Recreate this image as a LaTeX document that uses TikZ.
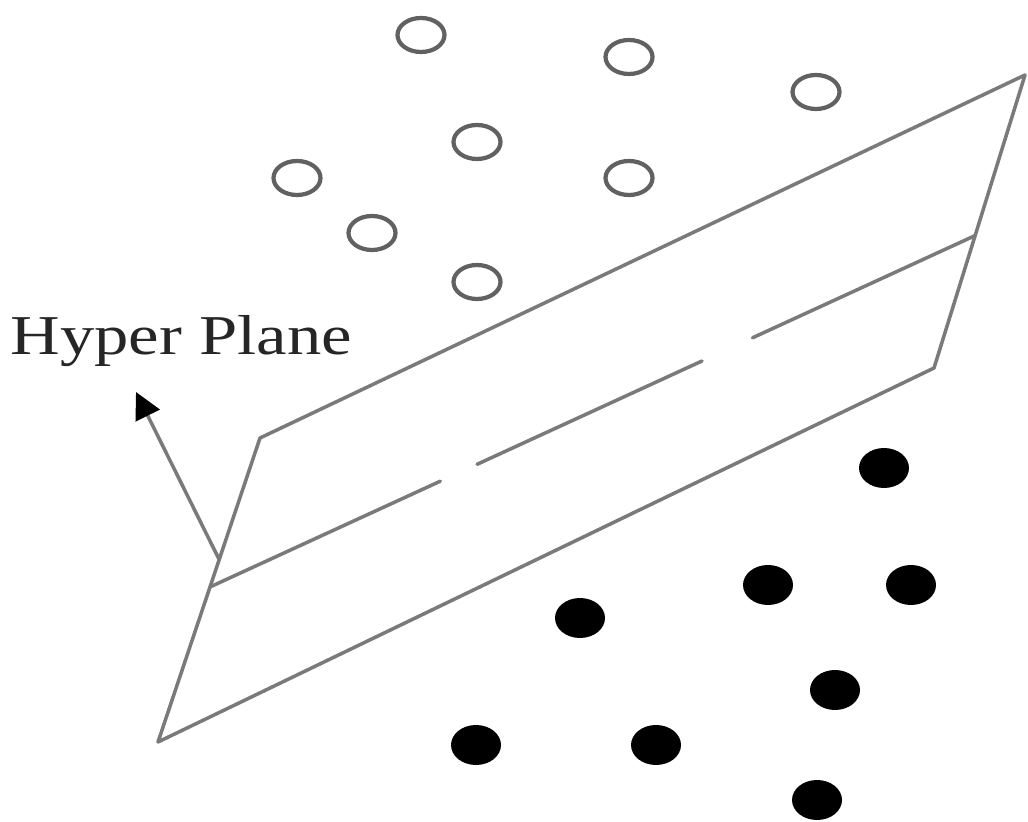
\documentclass[tikz,border=0pt]{standalone}
\usepackage{fontspec}
\setmainfont{Liberation Serif}
\usepackage{tikz}
\usetikzlibrary{shapes.geometric, positioning, calc, arrows.meta}

\newcommand{\pxu}{*0.01cm}
\tikzset{
  planeline/.style={line width=1pt, draw=black!52, line cap=round, line join=round},
  hollowpt/.style={ellipse, draw=black!62, line width=1.2pt, fill=white,
                   minimum width=47\pxu, minimum height=34\pxu, inner sep=0pt},
  solidpt/.style={ellipse, fill=black, draw=none,
                  minimum width=50\pxu, minimum height=40\pxu, inner sep=0pt}
}

\begin{document}
\begin{tikzpicture}[x=0.01cm, y=-0.01cm]
        \useasboundingbox (0,0) rectangle (1028,822);

        % 1. Corners of the hyper plane
        \coordinate (tl) at (260,438);
        \coordinate (tr) at (1025,75);
        \coordinate (br) at (934,368);
        \coordinate (bl) at (158,742);

        % 2. Outline of the plane
        \draw[planeline] (tl) -- (tr) -- (br) -- (bl) -- cycle;

        % 3. Middle line with two gaps
        \coordinate (mA) at ($(tl)!0.49!(bl)$);
        \coordinate (mB) at ($(tr)!0.548!(br)$);
        \draw[planeline] (mA) -- ($(mA)!0.301!(mB)$);
        \draw[planeline] ($(mA)!0.349!(mB)$) -- ($(mA)!0.643!(mB)$);
        \draw[planeline] ($(mA)!0.709!(mB)$) -- (mB);

        % 4. Normal arrow and its label
        \coordinate (nbase) at ($(tl)!0.4!(bl)$);
        \node[anchor=base west, inner sep=0pt, text=black!85,
              font=\fontsize{16}{18}\selectfont]
             (lbl) at (10,355) {\scalebox{1.22}[1]{Hyper Plane}};
        \coordinate (ntip) at (136,392);
        \draw[planeline, -{Triangle[length=7.5pt, width=7.5pt, color=black]}] (nbase) -- (ntip);

        % 5. Class one (hollow points)
        \node[hollowpt] (h1) at (421,35) {};
        \node[hollowpt] (h2) at (629,57) {};
        \node[hollowpt] (h3) at (816,92) {};
        \node[hollowpt] (h4) at (477,142) {};
        \node[hollowpt] (h5) at (297,178) {};
        \node[hollowpt] (h6) at (629,178) {};
        \node[hollowpt] (h7) at (372,233) {};
        \node[hollowpt] (h8) at (477,282) {};

        % 6. Class two (filled points)
        \node[solidpt] (s1) at (884,468) {};
        \node[solidpt] (s2) at (768,585) {};
        \node[solidpt] (s3) at (911,585) {};
        \node[solidpt] (s4) at (580,618) {};
        \node[solidpt] (s5) at (835,690) {};
        \node[solidpt] (s6) at (476,745) {};
        \node[solidpt] (s7) at (656,745) {};
        \node[solidpt] (s8) at (817,800) {};
\end{tikzpicture}
\end{document}
